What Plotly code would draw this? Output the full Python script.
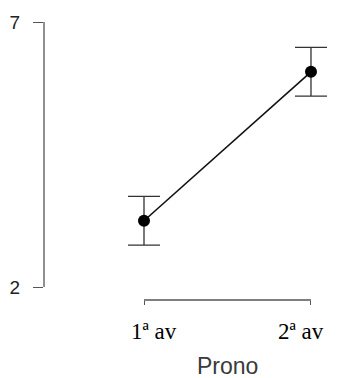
import plotly.graph_objects as go

# Data
categories = ["1ª av", "2ª av"]
positions = [1, 2]
means = [3.25, 6.06]
errors = [0.46, 0.46]
y_ticks = [2, 7]
x_title = "Prono"

W, H = 356, 378
fig = go.Figure()
fig.add_trace(go.Scatter(
    x=positions, y=means, mode="lines+markers",
    line=dict(color="#111111", width=1.6),
    marker=dict(size=12, color="#000000"),
    error_y=dict(type="data", array=errors, visible=True,
                 color="#333333", thickness=1.3, width=16),
    showlegend=False, hoverinfo="skip",
))

# Axis lines spanning only the tick range (R "bty=n" style)
fig.add_shape(type="line", xref="paper", yref="y", x0=0, x1=0,
              y0=min(y_ticks), y1=max(y_ticks), line=dict(color="#555555", width=1.3))
fig.add_shape(type="line", xref="x", yref="paper", x0=positions[0], x1=positions[-1],
              y0=0, y1=0, line=dict(color="#555555", width=1.3))

# Category labels
label_shift = [10, -10]
for p, lab, s in zip(positions, categories, label_shift):
    fig.add_annotation(x=p, y=0, xref="x", yref="paper", text=lab, showarrow=False,
                       yshift=-31, xshift=s, yanchor="middle",
                       font=dict(family="Liberation Serif", size=23, color="#000000"))
fig.add_annotation(x=(positions[0] + positions[-1]) / 2, y=0, xref="x", yref="paper",
                   text=x_title, showarrow=False, yshift=-66, yanchor="middle",
                   font=dict(family="Liberation Sans", size=23, color="#3a3a3a"))

fig.update_xaxes(range=[0.4012, 2.2695], showgrid=False, zeroline=False, showline=False,
                 tickvals=positions, ticktext=["", ""], ticks="outside", ticklen=4,
                 tickcolor="#555555", tickwidth=1.3)
fig.update_yaxes(range=[1.7547, 7.2264], showgrid=False, zeroline=False, showline=False,
                 tickvals=y_ticks, ticks="outside", ticklen=10, tickcolor="#555555",
                 tickwidth=1.3, ticklabelstandoff=9,
                 tickfont=dict(family="Liberation Sans", size=19, color="#222222"))
fig.update_layout(width=W, height=H, margin=dict(l=44, r=0, t=10, b=78),
                  plot_bgcolor="white", paper_bgcolor="white")
fig.write_html("out.html")
